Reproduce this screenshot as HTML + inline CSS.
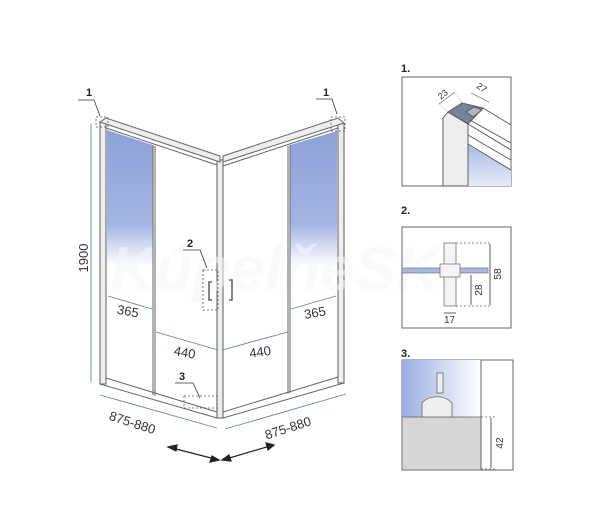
<!DOCTYPE html>
<html><head><meta charset="utf-8"><style>
html,body{margin:0;padding:0;background:#fff;}
svg{display:block;font-family:"Liberation Sans",sans-serif;}
</style></head><body>
<svg width="600" height="532" viewBox="0 0 600 532" xmlns="http://www.w3.org/2000/svg">
<defs>
<linearGradient id="bl" x1="0" y1="0" x2="0" y2="1">
<stop offset="0" stop-color="#8ea2d8"/><stop offset="0.55" stop-color="#a4b4e2"/><stop offset="0.8" stop-color="#ffffff"/></linearGradient>
<linearGradient id="bl3" x1="0" y1="0" x2="1" y2="0">
<stop offset="0" stop-color="#9aaee0"/><stop offset="1" stop-color="#ffffff"/></linearGradient>
<linearGradient id="bl1" x1="0" y1="0" x2="0" y2="1">
<stop offset="0" stop-color="#aab8e6"/><stop offset="1" stop-color="#e6ecf8"/></linearGradient>
</defs>
<g fill="none" stroke="#777" stroke-width="1.2">
<rect x="100" y="122" width="6" height="262" fill="#eee"/>
<rect x="338" y="123" width="6" height="260" fill="#eee"/>
<rect x="217" y="160" width="6" height="258" fill="#eee"/>
</g>
<polygon points="107,130 153,145 153,300 107,300" fill="url(#bl)"/>
<polygon points="290,145 337,131 337,300 290,300" fill="url(#bl)"/>
<text x="110" y="290" font-size="62" font-style="italic" font-weight="bold" fill="#f4f6fb" opacity="0.55">KúpelňeSK</text>
<g stroke="#666" stroke-width="1" fill="none">
<line x1="153" y1="145" x2="153" y2="395"/><line x1="155" y1="146" x2="155" y2="396"/>
<line x1="290" y1="145" x2="290" y2="393"/><line x1="288" y1="146" x2="288" y2="394"/>
<polygon points="100,122 106,118 220,156 220,162" fill="#eee"/>
<line x1="106" y1="128" x2="217" y2="165"/>
<polygon points="223,156 338,118 344,123 223,162" fill="#eee"/>
<line x1="223" y1="166" x2="338" y2="128"/>
<line x1="100" y1="384" x2="217" y2="418"/><line x1="106" y1="378" x2="217" y2="412"/>
<line x1="223" y1="418" x2="344" y2="383"/><line x1="223" y1="412" x2="338" y2="377"/>
<path d="M212,282 h-3 v18 h3" stroke-width="1.6"/>
<path d="M229,280 h3 v20 h-3" stroke-width="1.6"/>
</g>
<g stroke="#555" stroke-width="0.8" stroke-dasharray="2,2" fill="none">
<rect x="96" y="117" width="12" height="10"/>
<rect x="331" y="117" width="14" height="14"/>
<rect x="203" y="270" width="15" height="40"/>
<rect x="184" y="396" width="33" height="12"/>
</g>
<g stroke="#333" stroke-width="0.8" fill="none">
<path d="M78,100 H94 L100,116"/><path d="M316,99 H332 L337,114"/>
<path d="M183,250 H200 L207,268"/><path d="M175,383 H193 L200,398"/>
</g>
<g font-size="11" font-weight="bold" fill="#222">
<text x="86" y="96">1</text><text x="323" y="96">1</text><text x="187" y="247">2</text><text x="179" y="380">3</text>
</g>
<g stroke="#5a8aa0" stroke-width="0.9" fill="none">
<line x1="91" y1="124" x2="91" y2="382"/>
<line x1="108" y1="296" x2="152" y2="309"/>
<line x1="291" y1="309" x2="336" y2="296"/>
<line x1="156" y1="332" x2="218" y2="350"/>
<line x1="222" y1="350" x2="288" y2="332"/>
<line x1="100" y1="395" x2="217" y2="428"/>
<line x1="225" y1="429" x2="346" y2="394"/>
</g>
<g font-size="13" fill="#333">
<text transform="translate(88,258) rotate(-90)" text-anchor="middle">1900</text>
<text x="117" y="316" transform="rotate(10 130 312)">365</text>
<text x="304" y="317" transform="rotate(-10 316 312)">365</text>
<text x="174" y="357" transform="rotate(10 185 352)">440</text>
<text x="249" y="356" transform="rotate(-8 262 350)">440</text>
<text x="108" y="429" transform="rotate(18 138 425)">875-880</text>
<text x="263" y="431" transform="rotate(-18 292 424)">875-880</text>
</g>
<g stroke="#222" stroke-width="1.2" fill="#222">
<line x1="172" y1="448" x2="215" y2="459"/><polygon points="168,447 177,445 176,451"/><polygon points="219,460 210,462 212,456"/>
<line x1="226" y1="459" x2="270" y2="446"/><polygon points="222,460 229,455 231,461"/><polygon points="274,445 266,443 268,450"/>
</g>

<g font-size="11" font-weight="bold" fill="#222">
<text x="401" y="72">1.</text><text x="401" y="214">2.</text><text x="401" y="357">3.</text>
</g>
<g stroke="#666" stroke-width="1" fill="none">
<rect x="402" y="77" width="109" height="109"/>
<rect x="402" y="227" width="109" height="101"/>
<rect x="402" y="360" width="111" height="110"/>
</g>
<polygon points="468,145 511,170 511,186 468,186" fill="url(#bl1)"/>
<g stroke="#555" stroke-width="0.9">
<polygon points="443,118 448,112 468,124 468,186 443,186" fill="#eceef0"/>
<polygon points="448,112 462,103 483,108 468,124" fill="#7a8394"/>
<polygon points="466,112 474,107 482,110 473,117" fill="#b0b6c4"/>
<line x1="468" y1="124" x2="511" y2="150"/><line x1="483" y1="108" x2="511" y2="125"/>
<line x1="470" y1="120" x2="511" y2="143"/><line x1="468" y1="135" x2="511" y2="160"/>
<line x1="468" y1="144" x2="511" y2="170"/>
</g>
<g stroke="#555" stroke-width="0.6"><line x1="439" y1="104" x2="455" y2="92"/><line x1="471" y1="93" x2="489" y2="102"/></g>
<g stroke="#888" stroke-width="0.5" stroke-dasharray="1,1"><line x1="447" y1="111" x2="438" y2="104"/><line x1="462" y1="102" x2="455" y2="92"/><line x1="483" y1="107" x2="489" y2="102"/></g>
<g font-size="9" fill="#333"><text x="438" y="98" transform="rotate(-40 442 95)">23</text><text x="476" y="91" transform="rotate(35 482 89)">27</text></g>
<rect x="402" y="268" width="86" height="5" fill="#a8b8e0" stroke="#777" stroke-width="0.7"/>
<rect x="444" y="243" width="12" height="63" fill="#f4f4f4" stroke="#777" stroke-width="0.8"/>
<rect x="440" y="264" width="20" height="13" fill="#f4f4f4" stroke="#777" stroke-width="0.8"/>
<g stroke="#666" stroke-width="0.7" fill="none" stroke-dasharray="2,2">
<line x1="456" y1="243" x2="492" y2="243"/><line x1="456" y1="306" x2="492" y2="306"/>
</g>
<g stroke="#333" stroke-width="0.8"><line x1="490" y1="244" x2="490" y2="305"/><line x1="471" y1="275" x2="471" y2="305"/><line x1="444" y1="313" x2="456" y2="313"/></g>
<g font-size="10" fill="#333"><text transform="translate(501,274) rotate(-90)" text-anchor="middle">58</text><text transform="translate(482,290) rotate(-90)" text-anchor="middle">28</text><text x="444" y="323">17</text></g>
<rect x="402" y="360" width="79" height="57" fill="url(#bl3)"/>
<rect x="402" y="417" width="79" height="53" fill="#d6d6d6" stroke="#666" stroke-width="0.8"/>
<line x1="481" y1="360" x2="481" y2="470" stroke="#666"/>
<rect x="437" y="373" width="6" height="20" fill="#eee" stroke="#666" stroke-width="0.8"/>
<path d="M422,417 V403 A18,14 0 0 1 452,403 V417 Z" fill="#eee" stroke="#666" stroke-width="0.8"/>
<g stroke="#666" stroke-width="0.7" stroke-dasharray="2,2"><line x1="481" y1="417" x2="495" y2="417"/><line x1="481" y1="469" x2="495" y2="469"/></g>
<line x1="491" y1="418" x2="491" y2="468" stroke="#333" stroke-width="0.8"/>
<text transform="translate(503,443) rotate(-90)" text-anchor="middle" font-size="10" fill="#333">42</text>
</svg>
</body></html>
